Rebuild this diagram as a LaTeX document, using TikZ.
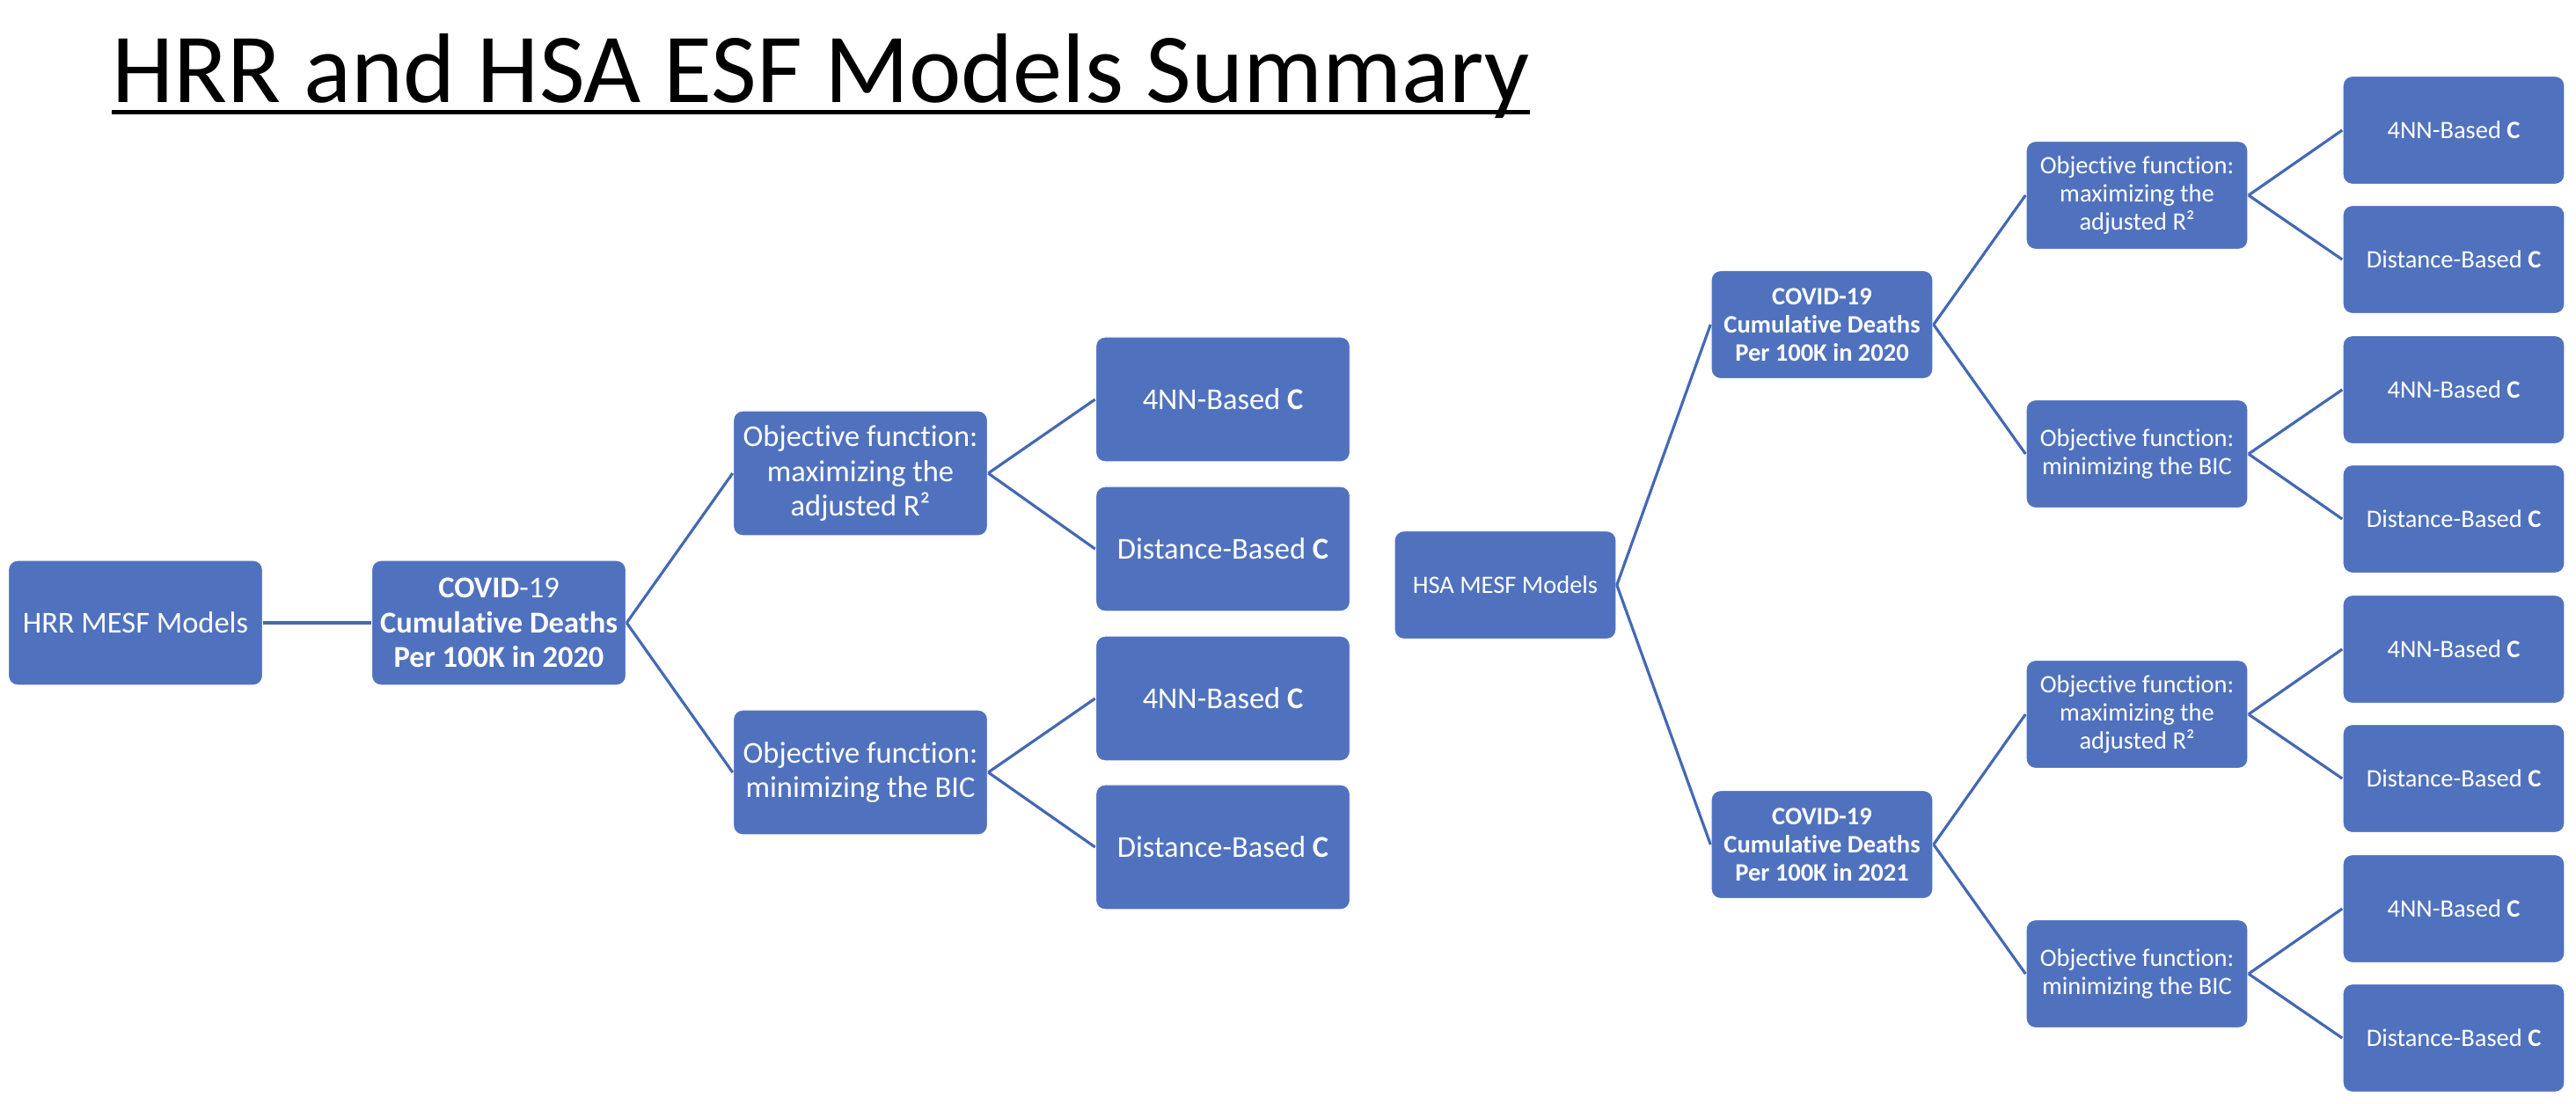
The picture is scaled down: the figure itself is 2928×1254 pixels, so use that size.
\documentclass[tikz,border=0pt]{standalone}
\usepackage{fontspec}
\setmainfont{Carlito}[Ligatures=NoCommon]
\definecolor{boxblue}{RGB}{80,114,190}
\definecolor{lineblue}{RGB}{68,104,180}
\begin{document}
\begin{tikzpicture}[x=0.01cm,y=-0.01cm,
  bigbox/.style={rectangle, rounded corners=3pt, fill=boxblue, draw=white, line width=0.4pt,
    minimum width=289*0.2845pt, minimum height=142*0.2845pt, inner sep=2pt, align=center,
    text=white, font=\fontsize{9.8}{11.2}\selectfont},
  smallbox/.style={rectangle, rounded corners=3pt, fill=boxblue, draw=white, line width=0.4pt,
    minimum width=252*0.2845pt, minimum height=123*0.2845pt, inner sep=2pt, align=center,
    text=white, font=\fontsize{8.1}{9.1}\selectfont},
  link/.style={draw=lineblue, line width=0.9pt}]
\useasboundingbox (0,0) rectangle (2928,1254);
% title
\node[anchor=base west, inner sep=0pt, font=\fontsize{32}{38}\selectfont] (title) at (127,116) {HRR and HSA ESF Models Summary};
\draw[line width=1.4pt] ([yshift=-3.2pt]title.base west) -- ([yshift=-3.2pt]title.base east);
% left tree
\node[bigbox] (hrr) at (154,708) {HRR MESF Models};
\node[bigbox] (covl) at (567,708) {\textbf{COVID}-19\\\textbf{Cumulative Deaths}\\\textbf{Per 100K in 2020}};
\node[bigbox] (omaxl) at (978,538) {Objective function:\\maximizing the\\adjusted R²};
\node[bigbox] (ominl) at (978,878) {Objective function:\\minimizing the BIC};
\node[bigbox] (l1) at (1390,454) {4NN-Based \textbf{C}};
\node[bigbox] (l2) at (1390,624) {Distance-Based \textbf{C}};
\node[bigbox] (l3) at (1390,794) {4NN-Based \textbf{C}};
\node[bigbox] (l4) at (1390,963) {Distance-Based \textbf{C}};
\draw[link] (hrr.east) -- (covl.west);
\draw[link] (covl.east) -- (omaxl.west);
\draw[link] (covl.east) -- (ominl.west);
\draw[link] (omaxl.east) -- (l1.west);
\draw[link] (omaxl.east) -- (l2.west);
\draw[link] (ominl.east) -- (l3.west);
\draw[link] (ominl.east) -- (l4.west);
% right tree
\node[smallbox] (hsa) at (1711,665) {HSA MESF Models};
\node[smallbox] (cr1) at (2071,369) {\textbf{COVID-19}\\\textbf{Cumulative Deaths}\\\textbf{Per 100K in 2020}};
\node[smallbox] (cr2) at (2071,960) {\textbf{COVID-19}\\\textbf{Cumulative Deaths}\\\textbf{Per 100K in 2021}};
\node[smallbox] (omax1) at (2429,222) {Objective function:\\maximizing the\\adjusted R²};
\node[smallbox] (omin1) at (2429,516) {Objective function:\\minimizing the BIC};
\node[smallbox] (omax2) at (2429,812) {Objective function:\\maximizing the\\adjusted R²};
\node[smallbox] (omin2) at (2429,1107) {Objective function:\\minimizing the BIC};
\node[smallbox] (r1) at (2789,148) {4NN-Based \textbf{C}};
\node[smallbox] (r2) at (2789,295) {Distance-Based \textbf{C}};
\node[smallbox] (r3) at (2789,443) {4NN-Based \textbf{C}};
\node[smallbox] (r4) at (2789,590) {Distance-Based \textbf{C}};
\node[smallbox] (r5) at (2789,738) {4NN-Based \textbf{C}};
\node[smallbox] (r6) at (2789,885) {Distance-Based \textbf{C}};
\node[smallbox] (r7) at (2789,1033) {4NN-Based \textbf{C}};
\node[smallbox] (r8) at (2789,1180) {Distance-Based \textbf{C}};
\draw[link] (hsa.east) -- (cr1.west);
\draw[link] (hsa.east) -- (cr2.west);
\draw[link] (cr1.east) -- (omax1.west);
\draw[link] (cr1.east) -- (omin1.west);
\draw[link] (cr2.east) -- (omax2.west);
\draw[link] (cr2.east) -- (omin2.west);
\draw[link] (omax1.east) -- (r1.west);
\draw[link] (omax1.east) -- (r2.west);
\draw[link] (omin1.east) -- (r3.west);
\draw[link] (omin1.east) -- (r4.west);
\draw[link] (omax2.east) -- (r5.west);
\draw[link] (omax2.east) -- (r6.west);
\draw[link] (omin2.east) -- (r7.west);
\draw[link] (omin2.east) -- (r8.west);
\end{tikzpicture}
\end{document}
